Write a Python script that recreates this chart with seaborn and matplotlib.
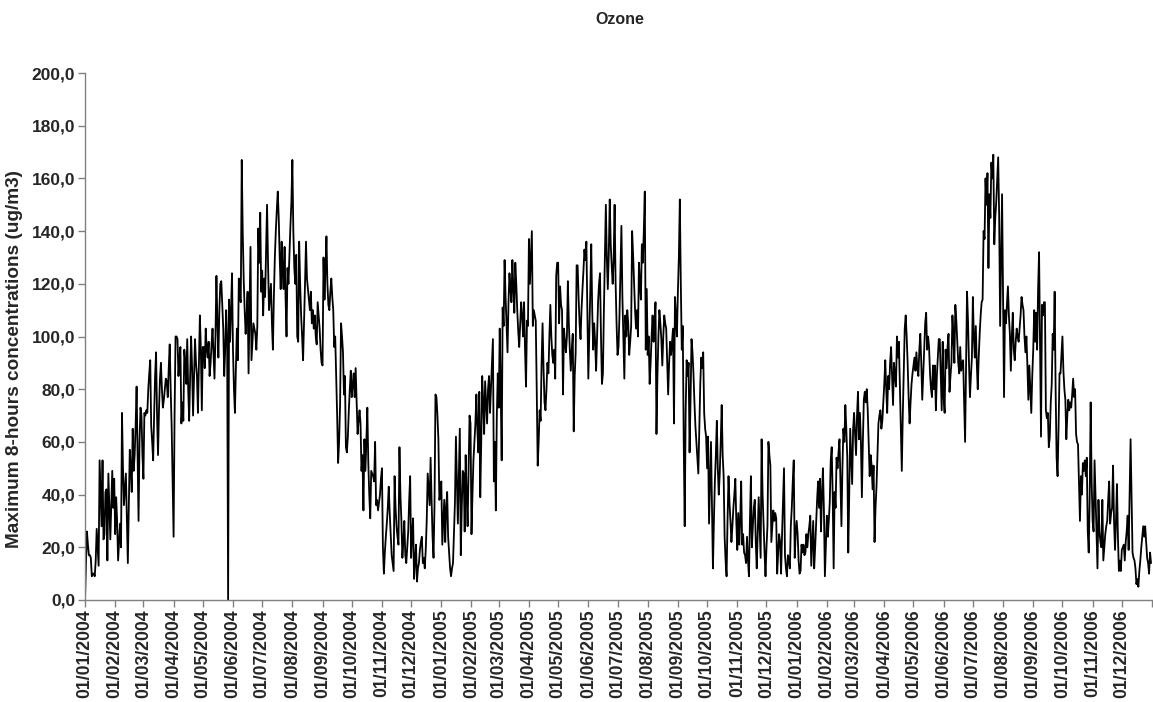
import matplotlib
matplotlib.use("Agg")
import matplotlib.pyplot as plt
import pandas as pd
import seaborn as sns

# Daily maximum 8-hour ozone values, one row per month.
ozone_2004 = [
    0, 14, 26, 21, 17, 17, 16, 9, 10, 10, 9, 15, 27, 20, 13, 53, 40, 28, 53, 23, 25, 41, 42, 15, 48, 35, 23, 36, 49, 35, 46,
    25, 39, 30, 15, 22, 29, 20, 71, 50, 36, 42, 48, 30, 14, 35, 57, 50, 41, 65, 49, 55, 66, 81, 55, 30, 60, 73, 70, 55,
    46, 71, 70, 72, 71, 80, 86, 91, 66, 60, 53, 70, 85, 94, 70, 55, 72, 84, 90, 80, 73, 76, 80, 84, 83, 77, 88, 97, 80, 66, 45,
    24, 70, 100, 100, 99, 85, 92, 96, 67, 75, 68, 95, 90, 82, 99, 80, 68, 85, 100, 88, 70, 85, 99, 90, 85, 71, 90, 108, 95, 72,
    96, 96, 88, 103, 95, 92, 98, 85, 90, 97, 103, 93, 84, 100, 123, 105, 92, 110, 120, 121, 112, 103, 85, 95, 110, 100, 0, 114, 98, 110, 124,
    95, 80, 71, 88, 103, 91, 122, 115, 113, 167, 140, 122, 110, 101, 108, 117, 86, 110, 134, 91, 98, 105, 103, 101, 95, 104, 141, 128, 147, 117,
    125, 108, 122, 115, 133, 150, 128, 110, 115, 120, 105, 95, 115, 130, 140, 148, 155, 145, 130, 118, 136, 125, 118, 134, 115, 100, 126, 120, 131, 142, 151,
    167, 140, 126, 120, 131, 100, 98, 136, 120, 108, 100, 91, 105, 120, 136, 122, 118, 114, 110, 117, 105, 110, 103, 108, 100, 97, 113, 108, 103, 95, 90,
    89, 130, 114, 125, 138, 120, 112, 110, 117, 122, 115, 110, 96, 100, 85, 70, 52, 60, 74, 105, 100, 94, 78, 85, 58, 56, 62, 72, 80, 87,
    77, 82, 86, 77, 88, 75, 63, 68, 72, 67, 49, 55, 34, 61, 49, 60, 73, 52, 40, 31, 49, 48, 47, 45, 60, 36, 38, 34, 37, 40, 46,
    50, 20, 10, 18, 24, 29, 35, 43, 33, 25, 17, 14, 11, 47, 35, 28, 24, 21, 58, 40, 30, 16, 22, 30, 17, 14, 20, 26, 38, 47,
    16, 25, 31, 8, 15, 21, 7, 12, 14, 19, 22, 24, 14, 16, 12, 19, 30, 48, 42, 36, 54, 38, 24, 16, 36, 78, 77, 70, 61, 38, 40,
]
ozone_2005 = [
    45, 21, 30, 38, 22, 35, 41, 24, 18, 12, 9, 12, 14, 25, 37, 62, 45, 29, 48, 65, 17, 35, 49, 48, 26, 55, 40, 28, 50, 70, 67,
    25, 40, 53, 60, 67, 78, 65, 56, 79, 39, 60, 85, 75, 63, 83, 75, 67, 80, 85, 71, 80, 90, 99, 45, 60, 34, 70, 86,
    73, 103, 80, 53, 111, 104, 129, 115, 105, 94, 113, 124, 118, 113, 129, 118, 109, 128, 120, 110, 102, 96, 105, 113, 108, 100, 113, 95, 81, 106, 104,
    137, 120, 130, 140, 104, 110, 108, 106, 80, 51, 60, 72, 68, 90, 105, 88, 75, 72, 80, 90, 86, 100, 112, 100, 93, 90, 95, 84, 123, 128,
    128, 105, 119, 112, 110, 78, 103, 98, 94, 100, 121, 105, 95, 87, 95, 101, 64, 85, 94, 127, 127, 115, 105, 99, 110, 118, 125, 133, 129, 136, 110,
    84, 100, 117, 135, 110, 95, 105, 98, 87, 100, 113, 120, 124, 100, 82, 86, 110, 131, 150, 130, 118, 131, 152, 135, 127, 120, 129, 150, 121, 105,
    93, 96, 108, 125, 142, 115, 100, 84, 108, 100, 110, 105, 93, 98, 104, 140, 131, 120, 110, 103, 110, 100, 128, 120, 114, 135, 128, 140, 155, 95, 118,
    93, 100, 82, 90, 100, 108, 98, 105, 113, 63, 85, 100, 110, 105, 99, 89, 100, 108, 105, 103, 90, 78, 90, 98, 93, 98, 103, 67, 115, 108, 100,
    117, 130, 152, 120, 95, 104, 60, 28, 72, 91, 85, 90, 56, 76, 99, 94, 86, 75, 66, 60, 54, 48, 65, 82, 92, 88, 94, 71, 65, 62,
    50, 62, 29, 45, 60, 35, 12, 30, 45, 55, 68, 50, 40, 48, 60, 74, 55, 47, 24, 15, 9, 30, 47, 37, 30, 22, 28, 35, 40, 46, 30,
    19, 33, 21, 30, 45, 21, 25, 18, 17, 14, 24, 15, 9, 30, 47, 20, 28, 35, 38, 22, 12, 25, 39, 28, 16, 61, 40, 29, 18, 9,
    20, 28, 60, 55, 51, 22, 28, 34, 30, 33, 31, 10, 18, 25, 22, 10, 25, 38, 50, 17, 12, 9, 17, 15, 12, 28, 35, 45, 53, 16, 25,
]
ozone_2006 = [
    30, 25, 15, 10, 11, 21, 18, 21, 17, 18, 25, 20, 25, 28, 32, 13, 22, 30, 12, 20, 29, 38, 45, 35, 46, 26, 40, 50, 34, 9, 20,
    32, 24, 30, 37, 53, 58, 40, 12, 41, 35, 54, 50, 56, 61, 45, 28, 50, 65, 60, 74, 65, 54, 18, 40, 65, 55, 44, 65,
    71, 63, 55, 70, 79, 61, 71, 60, 39, 60, 76, 79, 75, 80, 72, 60, 47, 55, 51, 42, 51, 22, 35, 43, 55, 67, 70, 72, 65, 68, 75,
    82, 91, 80, 71, 85, 80, 90, 96, 85, 74, 90, 85, 81, 100, 92, 98, 82, 65, 49, 70, 86, 103, 108, 100, 90, 77, 67, 75, 82, 86,
    89, 92, 87, 94, 88, 85, 95, 101, 90, 76, 85, 95, 105, 109, 95, 100, 96, 86, 80, 77, 89, 80, 89, 72, 85, 92, 99, 99, 85, 72, 98,
    77, 71, 95, 88, 96, 101, 79, 85, 90, 108, 100, 90, 112, 106, 98, 90, 86, 96, 87, 90, 91, 75, 60, 90, 117, 106, 90, 77, 85, 92,
    115, 100, 92, 104, 90, 80, 92, 101, 108, 113, 114, 140, 137, 160, 150, 162, 126, 154, 145, 166, 160, 169, 135, 145, 151, 160, 168, 146, 104, 130, 154,
    115, 77, 110, 105, 112, 119, 108, 101, 87, 100, 109, 95, 91, 98, 103, 100, 98, 103, 108, 115, 112, 110, 100, 94, 100, 89, 76, 89, 80, 71, 85,
    95, 110, 98, 109, 95, 118, 132, 97, 62, 112, 108, 113, 113, 72, 69, 71, 58, 62, 75, 82, 101, 95, 117, 80, 54, 47, 65, 86, 86, 93,
    100, 87, 80, 76, 61, 70, 76, 72, 75, 73, 78, 84, 77, 80, 63, 60, 59, 45, 30, 47, 40, 52, 49, 53, 47, 54, 26, 18, 39, 75, 45,
    30, 26, 53, 39, 25, 12, 38, 26, 22, 20, 38, 15, 20, 25, 28, 30, 38, 45, 29, 33, 35, 51, 30, 19, 30, 44, 24, 11, 15, 11,
    19, 20, 21, 15, 22, 26, 32, 19, 40, 61, 39, 18, 16, 15, 12, 6, 8, 5, 11, 15, 20, 24, 28, 24, 28, 22, 16, 14, 10, 18, 14,
]

title = "Ozone"
y_label = "Maximum 8-hours concentrations (ug/m3)"
y_ticks = [0, 20, 40, 60, 80, 100, 120, 140, 160, 180, 200]
start_date = "2004-01-01"
end_date = "2007-01-01"

values = ozone_2004 + ozone_2005 + ozone_2006
dates = pd.date_range(start_date, periods=len(values), freq="D")
df = pd.DataFrame({"date": dates, "ozone": values})

sns.set_style("white")
plt.rcParams["font.family"] = ["Liberation Sans", "DejaVu Sans"]
plt.rcParams["font.weight"] = "bold"

W, H = 1153, 702
fig = plt.figure(figsize=(W / 100, H / 100), dpi=100)
ax = fig.add_axes([85 / W, 102 / H, 1067 / W, 527 / H])

sns.lineplot(data=df, x="date", y="ozone", color="black", linewidth=1.3, ax=ax)

# Monthly ticks, the last one (01/01/2007) left without a label as in the source
month_ticks = pd.date_range(start_date, end_date, freq="MS")
month_labels = [d.strftime("%d/%m/%Y") for d in month_ticks[:-1]] + [""]
ax.set_xticks(month_ticks)
ax.set_xticklabels(month_labels, rotation=90, fontsize=12.7, fontweight="bold")
ax.set_xlim(pd.Timestamp(start_date), pd.Timestamp(end_date))

ax.set_ylim(0, 200)
ax.set_yticks(y_ticks)
ax.set_yticklabels([f"{v:.1f}".replace(".", ",") for v in y_ticks], fontsize=12.5, fontweight="bold")

ax.set_xlabel("")
ax.set_ylabel("")
ax.tick_params(axis="both", direction="out", length=5, width=1, color="#808080", pad=2,
               bottom=True, left=True)

for side in ["top", "right"]:
    ax.spines[side].set_visible(False)
for side in ["left", "bottom"]:
    ax.spines[side].set_color("#808080")
    ax.spines[side].set_linewidth(1)

fig.text(620 / W, 1 - 20 / H, title, ha="center", va="center", fontsize=11.5, fontweight="bold")
fig.text(15 / W, 1 - 359 / H, y_label, ha="center", va="center", rotation=90,
         fontsize=13.7, fontweight="bold")

fig.savefig("out.png", dpi=100)
